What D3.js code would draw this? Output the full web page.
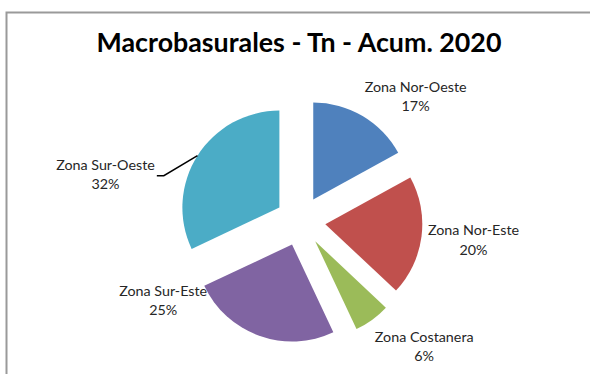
<!DOCTYPE html>
<html>
<head>
<meta charset="utf-8">
<script src="https://cdn.jsdelivr.net/npm/d3@7"></script>
<style>
  html, body { margin: 0; padding: 0; background: #fff; }
  svg { display: block; }
</style>
</head>
<body>
<div id="chart"></div>
<script>
// Macrobasurales - tonnage share by zone, accumulated 2020
const zones = ["Zona Nor-Oeste", "Zona Nor-Este", "Zona Costanera", "Zona Sur-Este", "Zona Sur-Oeste"];
const shares = [17, 20, 6, 25, 32];
const colors = ["#4F81BD", "#C0504D", "#9BBB59", "#8064A2", "#4BACC6"];
const title = "Macrobasurales - Tn - Acum. 2020";

const W = 590, H = 374;
const cx = 300.5, cy = 221;
const radius = 97;
const explode = 25;
const labelFont = "Lato, 'Open Sans', sans-serif";

// Label placement relative to each slice's outer bisector point
const labelNudge = [
  { dx: 53, dy: -21 },
  { dx: 52, dy: 2 },
  { dx: 52, dy: 25 },
  { dx: -96, dy: -37 },
  { dx: -92, dy: 17 }
];

const svg = d3.select("#chart").append("svg")
  .attr("width", W).attr("height", H);

// chart frame
svg.append("rect")
  .attr("x", 6.5).attr("y", 12.5)
  .attr("width", W + 20).attr("height", H + 20)
  .attr("fill", "#fff")
  .attr("stroke", "#9a9a9a")
  .attr("stroke-width", 2);

svg.append("text")
  .attr("x", 299).attr("y", 52)
  .attr("text-anchor", "middle")
  .attr("font-family", labelFont)
  .attr("font-weight", "bold")
  .attr("font-size", 26.8)
  .attr("fill", "#000")
  .text(title);

const data = zones.map((z, i) => ({ zone: z, share: shares[i], color: colors[i], nudge: labelNudge[i] }));

const pie = d3.pie().sort(null).value(d => d.share).startAngle(0).endAngle(2 * Math.PI);
const arc = d3.arc().innerRadius(0).outerRadius(radius);
const arcs = pie(data);

const dir = a => { const m = (a.startAngle + a.endAngle) / 2; return [Math.sin(m), -Math.cos(m)]; };

const g = svg.append("g").attr("transform", `translate(${cx},${cy})`);

g.selectAll("path.slice")
  .data(arcs)
  .join("path")
  .attr("class", "slice")
  .attr("transform", a => { const [ux, uy] = dir(a); return `translate(${ux * explode},${uy * explode})`; })
  .attr("d", arc)
  .attr("fill", a => a.data.color);

const total = d3.sum(shares);
const fmt = v => Math.round(v / total * 100) + "%";

arcs.forEach(a => {
  const [ux, uy] = dir(a);
  const ox = ux * (explode + radius), oy = uy * (explode + radius);
  const lx = ox + a.data.nudge.dx, ly = oy + a.data.nudge.dy;
  const t = g.append("text")
    .attr("x", lx).attr("y", ly)
    .attr("text-anchor", "middle")
    .attr("font-family", labelFont)
    .attr("font-size", 14.3)
    .attr("fill", "#262626");
  t.append("tspan").attr("x", lx).attr("dy", "-0.2em").text(a.data.zone);
  t.append("tspan").attr("x", lx).attr("dy", "1.35em").text(fmt(a.data.share));

  // leader line for the label placed far from its slice
  if (a.data.zone === "Zona Sur-Oeste") {
    const bb = t.node().getBBox();
    const firstLineY = ly + 3;
    const right = bb.x + bb.width;
    g.append("polyline")
      .attr("points", [[right + 2, firstLineY], [right + 9, firstLineY], [ox, oy]].map(p => p.join(",")).join(" "))
      .attr("fill", "none")
      .attr("stroke", "#000")
      .attr("stroke-width", 1.5);
  }
});
</script>
</body>
</html>
